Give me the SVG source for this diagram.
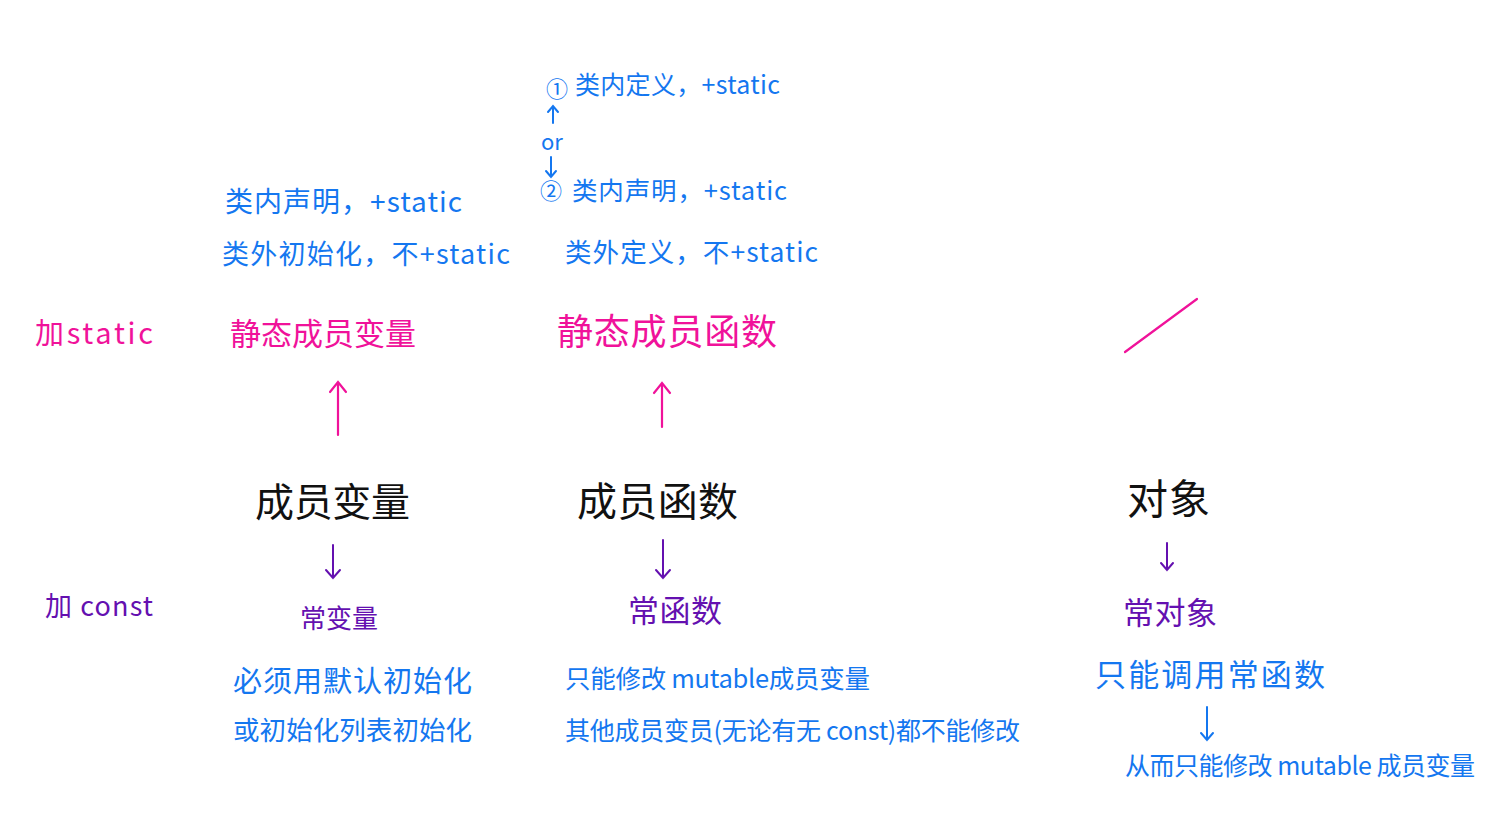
<svg xmlns="http://www.w3.org/2000/svg" width="1494" height="815" viewBox="0 0 1494 815">
<defs>
<style>
text{font-family:"Noto Sans CJK SC","Noto Sans",sans-serif;}
.blue{fill:#1477f0;font-size:27px;}
.pink{fill:#f0129a;font-size:34px;}
.black{fill:#111;font-size:40px;}
.purple{fill:#6410b0;font-size:30px;}
.lp{stroke:#f0129a;stroke-width:2.2;fill:none;stroke-linecap:round;}
.lv{stroke:#6410b0;stroke-width:2;fill:none;stroke-linecap:round;}
.lb{stroke:#1477f0;stroke-width:2;fill:none;stroke-linecap:round;}
</style>
</defs>
<rect width="1494" height="815" fill="#fff"/>

<g id="label-static"><text class="pink" x="35" y="344" textLength="118" style="font-size:29px">加static</text></g>
<g id="label-const"><text class="purple" x="45" y="616" textLength="108" style="font-size:27px">加 const</text></g>

<g id="static-member-var"><text class="pink" x="230" y="345" textLength="186" style="font-size:31px">静态成员变量</text></g>
<g id="static-member-func"><text class="pink" x="557" y="345" textLength="220" style="font-size:36px">静态成员函数</text></g>
<g id="static-object-none"><line class="lp" x1="1125" y1="352" x2="1197" y2="299"/></g>

<g id="member-var"><text class="black" x="255" y="516" textLength="155" style="font-size:39px">成员变量</text></g>
<g id="member-func"><text class="black" x="577" y="516" textLength="161">成员函数</text></g>
<g id="object"><text class="black" x="1127" y="514" textLength="83" style="font-size:41px">对象</text></g>

<g id="const-var"><text class="purple" x="300" y="628" textLength="78" style="font-size:26px">常变量</text></g>
<g id="const-func"><text class="purple" x="628" y="622" textLength="94" style="font-size:31px">常函数</text></g>
<g id="const-object"><text class="purple" x="1123" y="624" textLength="94" style="font-size:31px">常对象</text></g>

<g id="var-static-notes">
<text class="blue" x="225" y="212" textLength="237" style="font-size:28px">类内声明，+static</text>
<text class="blue" x="222" y="264" textLength="288">类外初始化，不+static</text>
</g>
<g id="func-static-notes">
<text class="blue" x="546" y="97" style="font-size:22px">①</text>
<text class="blue" x="575" y="94" textLength="205" style="font-size:25px">类内定义，+static</text>
<text class="blue" x="541" y="150" style="font-size:22px">or</text>
<text class="blue" x="540" y="199" style="font-size:22px">②</text>
<text class="blue" x="572" y="200" textLength="215" style="font-size:25.5px">类内声明，+static</text>
<text class="blue" x="565" y="262" textLength="253" style="font-size:26.5px">类外定义，不+static</text>
</g>

<g id="const-var-notes">
<text class="blue" x="233" y="692" textLength="239" style="font-size:29px">必须用默认初始化</text>
<text class="blue" x="233" y="740" textLength="239" style="font-size:26.5px">或初始化列表初始化</text>
</g>
<g id="const-func-notes">
<text class="blue" x="565" y="688" textLength="305" style="font-size:25.5px">只能修改 mutable成员变量</text>
<text class="blue" x="565" y="740" textLength="455" style="font-size:25px">其他成员变员(无论有无 const)都不能修改</text>
</g>
<g id="const-object-notes">
<text class="blue" x="1095" y="686" textLength="230" style="font-size:31px">只能调用常函数</text>
<text class="blue" x="1125" y="775" textLength="350" style="font-size:25px">从而只能修改 mutable 成员变量</text>
</g>

<g id="connectors">
<path class="lp" d="M338 435 V382 M330 392 L338 382 L346 392"/>
<path class="lp" d="M662 427 V383 M654 393 L662 383 L670 393"/>
<path class="lv" d="M333 545 V578 M326 570 L333 578 L340 570"/>
<path class="lv" d="M663 540 V578 M656 570 L663 578 L670 570"/>
<path class="lv" d="M1167 543 V570 M1161 563 L1167 570 L1173 563"/>
<path class="lb" d="M553 123 V106 M548 112 L553 106 L558 112"/>
<path class="lb" d="M551 157 V177 M546 171 L551 177 L556 171"/>
<path class="lb" d="M1207 707 V740 M1201 733 L1207 740 L1213 733"/>
</g>
</svg>
